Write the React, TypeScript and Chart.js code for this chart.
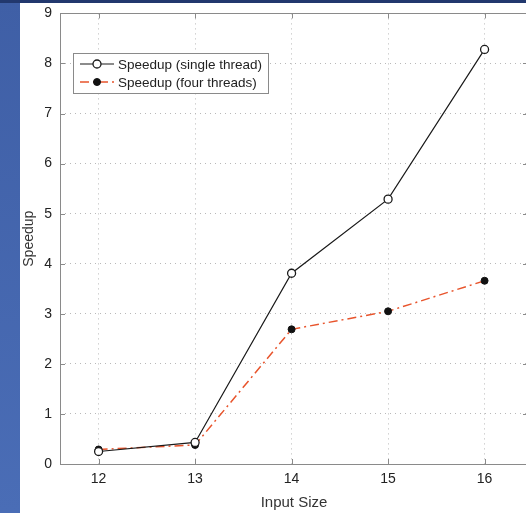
import React, { useEffect, useRef } from "react";
import { Chart, registerables } from "chart.js";

Chart.register(...registerables);

const inputSizes = [12, 13, 14, 15, 16];
const singleThread = [0.25, 0.43, 3.81, 5.29, 8.28];
const fourThreads = [0.29, 0.38, 2.69, 3.05, 3.66];
const yTicks = [0, 1, 2, 3, 4, 5, 6, 7, 8, 9];
const seriesLabels = ["Speedup (single thread)", "Speedup (four threads)"];

const FONT = "'Liberation Sans', Arial, sans-serif";
const SHIFT = 6;

const frame = {
  id: "frame",
  beforeDatasetsDraw(chart: any) {
    const { ctx, chartArea } = chart;
    const { left, right, top, bottom } = chartArea;
    const xs = chart.scales.x;
    const ys = chart.scales.y;
    ctx.save();
    ctx.strokeStyle = "#8a8a8a";
    ctx.lineWidth = 1;
    ctx.strokeRect(Math.round(left) + 0.5, Math.round(top) + 0.5, Math.round(right - left), Math.round(bottom - top));
    ctx.beginPath();
    const L = 5;
    inputSizes.forEach((v) => {
      const px = Math.round(xs.getPixelForValue(v)) + 0.5;
      ctx.moveTo(px, bottom);
      ctx.lineTo(px, bottom - L);
      ctx.moveTo(px, top);
      ctx.lineTo(px, top + L);
    });
    yTicks.forEach((v) => {
      const py = Math.round(ys.getPixelForValue(v)) + 0.5;
      ctx.moveTo(left, py);
      ctx.lineTo(left + L, py);
      ctx.moveTo(right, py);
      ctx.lineTo(right - L, py);
    });
    ctx.stroke();
    ctx.restore();
  },
};

const legendBox = {
  id: "legendBox",
  afterDraw(chart: any) {
    const { ctx } = chart;
    const x0 = 53, y0 = 50 + SHIFT, w = 195, h = 40;
    ctx.save();
    ctx.fillStyle = "#ffffff";
    ctx.fillRect(x0, y0, w, h);
    ctx.strokeStyle = "#8a8a8a";
    ctx.lineWidth = 1;
    ctx.strokeRect(x0 + 0.5, y0 + 0.5, w, h);
    const rows = [y0 + 11, y0 + 29];
    chart.data.datasets.forEach((ds: any, i: number) => {
      const y = rows[i];
      ctx.strokeStyle = ds.borderColor;
      ctx.lineWidth = ds.borderWidth;
      ctx.setLineDash(ds.borderDash || []);
      ctx.beginPath();
      ctx.moveTo(x0 + 7, y);
      ctx.lineTo(x0 + 41, y);
      ctx.stroke();
      ctx.setLineDash([]);
      ctx.beginPath();
      ctx.arc(x0 + 24, y, ds.pointRadius, 0, Math.PI * 2);
      ctx.fillStyle = ds.pointBackgroundColor;
      ctx.fill();
      ctx.strokeStyle = ds.pointBorderColor;
      ctx.lineWidth = ds.pointBorderWidth;
      ctx.stroke();
      ctx.fillStyle = "#222";
      ctx.font = `13.5px ${FONT}`;
      ctx.textBaseline = "middle";
      ctx.textAlign = "left";
      ctx.fillText(ds.label, x0 + 45, y + 1);
    });
    ctx.restore();
  },
};

export default function App() {
  const ref = useRef<HTMLCanvasElement>(null);
  useEffect(() => {
    const canvas = ref.current!;
    const chart = new Chart(canvas, {
      type: "line",
      data: {
        datasets: [
          {
            label: seriesLabels[0],
            data: inputSizes.map((x, i) => ({ x, y: singleThread[i] })),
            borderColor: "#1a1a1a",
            borderWidth: 1.2,
            pointRadius: 4,
            pointBackgroundColor: "#ffffff",
            pointBorderColor: "#1a1a1a",
            pointBorderWidth: 1.3,
            tension: 0,
          },
          {
            label: seriesLabels[1],
            data: inputSizes.map((x, i) => ({ x, y: fourThreads[i] })),
            borderColor: "#e8542c",
            borderWidth: 1.5,
            borderDash: [9, 4, 2, 4],
            pointRadius: 3.5,
            pointBackgroundColor: "#111111",
            pointBorderColor: "#111111",
            pointBorderWidth: 1,
            tension: 0,
          },
        ],
      },
      options: {
        responsive: false,
        animation: false,
        layout: { padding: { top: 3, right: 12, left: 0, bottom: 0 } },
        plugins: { legend: { display: false }, tooltip: { enabled: false } },
        scales: {
          x: {
            type: "linear",
            min: 11.6,
            max: 16.45,
            afterBuildTicks: (s: any) => {
              s.ticks = inputSizes.map((v) => ({ value: v }));
            },
            afterFit: (s: any) => {
              s.height = 49;
            },
            grid: {
              color: "#b8b8b8",
              tickLength: 0,
              drawTicks: false,
            },
            border: { display: false, dash: [1, 4] },
            ticks: {
              padding: 7,
              color: "#222",
              font: { family: FONT, size: 14 },
              callback: (v: any) => String(v),
            },
            title: {
              display: true,
              text: "Input Size",
              color: "#333",
              font: { family: FONT, size: 15 },
              padding: { top: 0, bottom: 1 },
            },
          },
          y: {
            min: 0,
            max: 9,
            afterBuildTicks: (s: any) => {
              s.ticks = yTicks.map((v) => ({ value: v }));
            },
            afterFit: (s: any) => {
              s.width = 40;
            },
            grid: {
              color: "#b8b8b8",
              tickLength: 0,
              drawTicks: false,
            },
            border: { display: false, dash: [1, 4] },
            ticks: {
              padding: 8,
              color: "#222",
              font: { family: FONT, size: 14 },
            },
            title: {
              display: true,
              text: "Speedup",
              color: "#333",
              font: { family: FONT, size: 14 },
              padding: { top: 1, bottom: 0 },
            },
          },
        },
      },
      plugins: [frame, legendBox],
    } as any);
    return () => chart.destroy();
  }, []);

  return (
    <div
      style={{
        position: "absolute",
        left: 0,
        top: 0,
        width: 526,
        height: 513,
        background: "linear-gradient(180deg, #3f5fa6 0%, #4a6db6 100%)",
        overflow: "hidden",
      }}
    >
      <div style={{ position: "absolute", left: 0, top: 0, width: 526, height: 3, background: "#22386e" }} />
      <div
        style={{
          position: "absolute",
          left: 20,
          top: 3,
          width: 506,
          height: 510,
          background: "#ffffff",
          overflow: "hidden",
        }}
      >
        <canvas
          ref={ref}
          width={520}
          height={510 + SHIFT}
          style={{ display: "block", marginTop: -SHIFT }}
        />
      </div>
    </div>
  );
}
